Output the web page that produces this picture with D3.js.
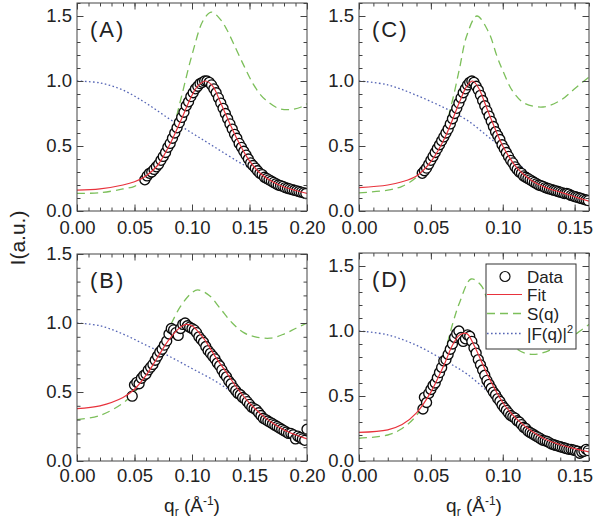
<!DOCTYPE html>
<html><head><meta charset="utf-8">
<script src="https://cdn.jsdelivr.net/npm/d3@7"></script>
<style>
body{margin:0;background:#fff}
text{font-family:"Liberation Sans",Arial,sans-serif;fill:#222}
</style>
</head><body>
<svg id="c" width="600" height="527"></svg>
<script>
// ---------- DATA ----------
const panelLabels = ["(A)", "(B)", "(C)", "(D)"];
const legendLabels = ["Data", "Fit", "S(q)", "|F(q)|"];
const xTicksAB = [0, 0.05, 0.10, 0.15, 0.20];
const xTicksCD = [0, 0.05, 0.10, 0.15];
const yTicks = [0, 0.5, 1.0, 1.5];

// Panel A
const dataA = [[0.059,0.24],[0.061,0.27],[0.063,0.29],[0.065,0.30],[0.067,0.32],[0.069,0.34],[0.071,0.36],[0.073,0.39],[0.075,0.42],[0.077,0.45],[0.079,0.49],[0.081,0.52],[0.083,0.56],[0.085,0.60],[0.087,0.64],[0.089,0.68],[0.091,0.72],[0.093,0.76],[0.095,0.81],[0.097,0.84],[0.099,0.88],[0.101,0.91],[0.103,0.94],[0.105,0.96],[0.107,0.98],[0.109,0.99],[0.111,1.0],[0.113,1.0],[0.115,0.99],[0.117,0.97],[0.119,0.94],[0.121,0.91],[0.123,0.87],[0.125,0.83],[0.127,0.79],[0.129,0.75],[0.131,0.71],[0.133,0.67],[0.135,0.63],[0.137,0.59],[0.139,0.56],[0.141,0.52],[0.143,0.49],[0.145,0.46],[0.147,0.43],[0.149,0.40],[0.151,0.37],[0.153,0.35],[0.155,0.33],[0.157,0.31],[0.159,0.29],[0.161,0.28],[0.163,0.26],[0.165,0.25],[0.167,0.24],[0.169,0.23],[0.171,0.22],[0.173,0.21],[0.175,0.20],[0.177,0.195],[0.179,0.19],[0.181,0.18],[0.183,0.175],[0.185,0.17],[0.187,0.165],[0.189,0.16],[0.191,0.155],[0.193,0.15],[0.195,0.145],[0.197,0.14],[0.199,0.135]];
const fitA = [[0,0.16],[0.02,0.17],[0.04,0.2],[0.05,0.225],[0.06,0.27],[0.07,0.35],[0.08,0.5],[0.09,0.69],[0.1,0.89],[0.105,0.96],[0.112,1.0],[0.118,0.96],[0.125,0.83],[0.13,0.73],[0.14,0.54],[0.15,0.385],[0.16,0.285],[0.17,0.225],[0.18,0.185],[0.19,0.158],[0.2,0.135]];
const sqA = [[0,0.136],[0.02,0.14],[0.04,0.17],[0.05,0.19],[0.06,0.25],[0.07,0.35],[0.08,0.52],[0.09,0.85],[0.1,1.2],[0.11,1.47],[0.117,1.53],[0.125,1.47],[0.13,1.4],[0.136,1.29],[0.145,1.12],[0.153,0.98],[0.16,0.89],[0.166,0.84],[0.175,0.79],[0.185,0.78],[0.195,0.8],[0.2,0.825]];
const ffA = [[0,1.0],[0.02,0.985],[0.04,0.93],[0.06,0.83],[0.08,0.71],[0.1,0.6],[0.12,0.49],[0.14,0.38],[0.15,0.33],[0.16,0.27],[0.18,0.17],[0.2,0.11]];

// Panel B
const dataB = [[0.048,0.47],[0.05,0.55],[0.052,0.57],[0.054,0.56],[0.056,0.60],[0.058,0.62],[0.06,0.63],[0.062,0.66],[0.064,0.68],[0.066,0.70],[0.068,0.73],[0.07,0.76],[0.072,0.79],[0.074,0.81],[0.076,0.84],[0.078,0.87],[0.08,0.92],[0.082,0.96],[0.084,0.95],[0.086,0.93],[0.088,0.91],[0.09,0.96],[0.092,0.99],[0.094,1.0],[0.096,0.98],[0.098,0.97],[0.1,0.96],[0.102,0.95],[0.104,0.93],[0.106,0.90],[0.108,0.88],[0.11,0.86],[0.112,0.83],[0.114,0.80],[0.116,0.78],[0.118,0.76],[0.12,0.74],[0.122,0.71],[0.124,0.69],[0.126,0.66],[0.128,0.63],[0.13,0.61],[0.132,0.58],[0.134,0.56],[0.136,0.53],[0.138,0.51],[0.14,0.49],[0.142,0.48],[0.144,0.46],[0.146,0.45],[0.148,0.43],[0.15,0.41],[0.152,0.39],[0.154,0.38],[0.156,0.37],[0.158,0.35],[0.16,0.33],[0.162,0.31],[0.164,0.30],[0.166,0.29],[0.168,0.28],[0.17,0.27],[0.172,0.26],[0.174,0.25],[0.176,0.24],[0.178,0.23],[0.18,0.22],[0.182,0.21],[0.184,0.20],[0.186,0.20],[0.188,0.19],[0.19,0.16],[0.192,0.18],[0.194,0.17],[0.196,0.16],[0.198,0.15],[0.2,0.23]];
const fitB = [[0,0.38],[0.02,0.40],[0.04,0.46],[0.05,0.52],[0.06,0.62],[0.07,0.75],[0.08,0.88],[0.09,0.97],[0.095,0.99],[0.1,0.98],[0.11,0.89],[0.12,0.76],[0.13,0.64],[0.14,0.52],[0.15,0.42],[0.16,0.34],[0.17,0.275],[0.18,0.225],[0.19,0.19],[0.2,0.16]];
const sqB = [[0,0.30],[0.02,0.33],[0.04,0.42],[0.05,0.50],[0.06,0.62],[0.07,0.78],[0.08,0.96],[0.09,1.12],[0.1,1.22],[0.105,1.24],[0.115,1.2],[0.125,1.1],[0.135,1.0],[0.145,0.93],[0.155,0.9],[0.168,0.89],[0.18,0.92],[0.19,0.96],[0.2,1.0]];
const ffB = [[0,1.0],[0.02,0.98],[0.04,0.92],[0.06,0.84],[0.08,0.76],[0.1,0.67],[0.12,0.58],[0.136,0.49],[0.15,0.39],[0.16,0.32],[0.18,0.21],[0.2,0.14]];

// Panel C
const dataC = [[0.044,0.29],[0.0455,0.31],[0.047,0.33],[0.0485,0.36],[0.05,0.39],[0.0515,0.42],[0.053,0.45],[0.0545,0.48],[0.056,0.51],[0.0575,0.54],[0.059,0.57],[0.0605,0.60],[0.062,0.63],[0.0635,0.67],[0.065,0.71],[0.0665,0.75],[0.068,0.79],[0.0695,0.83],[0.071,0.87],[0.0725,0.91],[0.074,0.94],[0.0755,0.97],[0.077,0.99],[0.0785,1.0],[0.08,0.99],[0.0815,0.96],[0.083,0.93],[0.0845,0.89],[0.086,0.85],[0.0875,0.81],[0.089,0.77],[0.0905,0.73],[0.092,0.69],[0.0935,0.65],[0.095,0.61],[0.0965,0.58],[0.098,0.55],[0.0995,0.51],[0.101,0.48],[0.1025,0.45],[0.104,0.42],[0.1055,0.39],[0.107,0.37],[0.1085,0.34],[0.11,0.32],[0.1115,0.30],[0.113,0.29],[0.1145,0.27],[0.116,0.26],[0.1175,0.25],[0.119,0.24],[0.1205,0.23],[0.122,0.22],[0.1235,0.21],[0.125,0.20],[0.1265,0.195],[0.128,0.19],[0.1295,0.18],[0.131,0.175],[0.1325,0.17],[0.134,0.165],[0.1355,0.16],[0.137,0.155],[0.1385,0.15],[0.14,0.145],[0.1415,0.14],[0.143,0.135],[0.1445,0.135],[0.146,0.13],[0.1475,0.12],[0.149,0.115],[0.1505,0.11],[0.152,0.105],[0.1535,0.10],[0.155,0.095],[0.1565,0.09],[0.158,0.085],[0.1595,0.08]];
const fitC = [[0,0.18],[0.02,0.2],[0.03,0.225],[0.04,0.27],[0.05,0.38],[0.06,0.57],[0.07,0.84],[0.075,0.96],[0.079,1.0],[0.083,0.95],[0.09,0.76],[0.1,0.5],[0.11,0.33],[0.12,0.235],[0.13,0.18],[0.14,0.145],[0.15,0.11],[0.16,0.075]];
const sqC = [[0,0.14],[0.02,0.16],[0.03,0.19],[0.04,0.26],[0.05,0.4],[0.06,0.65],[0.065,0.85],[0.07,1.1],[0.075,1.35],[0.082,1.5],[0.09,1.38],[0.096,1.19],[0.1,1.08],[0.107,0.92],[0.115,0.83],[0.128,0.8],[0.14,0.85],[0.15,0.94],[0.16,1.03]];
const ffC = [[0,1.0],[0.02,0.97],[0.04,0.89],[0.06,0.79],[0.075,0.7],[0.09,0.57],[0.1,0.48],[0.107,0.41],[0.115,0.32],[0.125,0.23],[0.14,0.14],[0.16,0.07]];

// Panel D
const dataD = [[0.0445,0.40],[0.0455,0.49],[0.047,0.45],[0.0485,0.52],[0.05,0.55],[0.0515,0.58],[0.053,0.60],[0.0545,0.64],[0.056,0.68],[0.0575,0.72],[0.059,0.77],[0.0605,0.78],[0.062,0.82],[0.0635,0.86],[0.065,0.90],[0.0665,0.95],[0.068,0.98],[0.0695,1.0],[0.071,0.95],[0.0725,0.92],[0.074,0.94],[0.0755,0.97],[0.077,0.96],[0.0785,0.92],[0.08,0.87],[0.0815,0.83],[0.083,0.78],[0.0845,0.74],[0.086,0.70],[0.0875,0.66],[0.089,0.62],[0.0905,0.59],[0.092,0.56],[0.0935,0.53],[0.095,0.51],[0.0965,0.48],[0.098,0.46],[0.0995,0.43],[0.101,0.41],[0.1025,0.39],[0.104,0.37],[0.1055,0.35],[0.107,0.34],[0.1085,0.33],[0.11,0.31],[0.1115,0.30],[0.113,0.28],[0.1145,0.26],[0.116,0.25],[0.1175,0.23],[0.119,0.22],[0.1205,0.21],[0.122,0.20],[0.1235,0.19],[0.125,0.18],[0.1265,0.17],[0.128,0.16],[0.1295,0.155],[0.131,0.15],[0.1325,0.14],[0.134,0.13],[0.1355,0.125],[0.137,0.12],[0.1385,0.115],[0.14,0.11],[0.1415,0.105],[0.143,0.10],[0.1445,0.095],[0.146,0.09],[0.1475,0.09],[0.149,0.085],[0.1505,0.08],[0.152,0.075],[0.1535,0.06],[0.155,0.07],[0.1565,0.075],[0.158,0.09],[0.1595,0.08]];
const fitD = [[0,0.22],[0.02,0.24],[0.03,0.28],[0.04,0.37],[0.05,0.53],[0.055,0.64],[0.06,0.76],[0.065,0.89],[0.07,0.97],[0.075,0.98],[0.08,0.89],[0.085,0.77],[0.09,0.65],[0.1,0.45],[0.11,0.32],[0.12,0.23],[0.13,0.165],[0.14,0.125],[0.15,0.095],[0.16,0.07]];
const sqD = [[0,0.175],[0.02,0.2],[0.03,0.25],[0.04,0.35],[0.05,0.55],[0.06,0.85],[0.065,1.05],[0.07,1.22],[0.078,1.4],[0.085,1.35],[0.09,1.22],[0.1,1.0],[0.11,0.86],[0.12,0.82],[0.13,0.84],[0.14,0.9],[0.15,0.97],[0.16,1.05]];
const ffD = [[0,1.0],[0.02,0.97],[0.04,0.89],[0.06,0.77],[0.075,0.67],[0.09,0.53],[0.1,0.43],[0.11,0.32],[0.12,0.23],[0.14,0.12],[0.16,0.06]];

// ---------- DRAW ----------
const RED = "#e8323c", GREEN = "#7cbf5a", BLUE = "#5565b5", FRAME = "#444";
const FONT = '"Liberation Sans", Arial, sans-serif';
const svg = d3.select("#c");

const panels = [
  {label: panelLabels[0], data: dataA, fit: fitA, sq: sqA, ff: ffA, xMax: 0.2, yMax: 1.6, xt: xTicksAB, L: 77, R: 307, T: 3, B: 211, pad: 10},
  {label: panelLabels[1], data: dataB, fit: fitB, sq: sqB, ff: ffB, xMax: 0.2, yMax: 1.5, xt: xTicksAB, L: 77, R: 307, T: 254, B: 461, pad: 8},
  {label: panelLabels[2], data: dataC, fit: fitC, sq: sqC, ff: ffC, xMax: 0.16, yMax: 1.6, xt: xTicksCD, L: 359, R: 589, T: 3, B: 211, pad: 10},
  {label: panelLabels[3], data: dataD, fit: fitD, sq: sqD, ff: ffD, xMax: 0.16, yMax: 1.6, xt: xTicksCD, L: 359, R: 589, T: 253, B: 461, pad: 8, legend: true}
];

panels.forEach((p, i) => {
  const x = d3.scaleLinear().domain([0, p.xMax]).range([p.L, p.R]);
  const y = d3.scaleLinear().domain([0, p.yMax]).range([p.B, p.T]);
  const g = svg.append("g");
  g.append("clipPath").attr("id", "clip" + i).append("rect")
    .attr("x", p.L).attr("y", p.T).attr("width", p.R - p.L).attr("height", p.B - p.T);
  const plot = g.append("g").attr("clip-path", `url(#clip${i})`);
  const line = d3.line().x(d => x(d[0])).y(d => y(d[1])).curve(d3.curveCatmullRom.alpha(0.5));

  plot.append("path").datum(p.ff).attr("d", line).attr("fill", "none")
    .attr("stroke", BLUE).attr("stroke-width", 1.3).attr("stroke-dasharray", "1.6,2.4");
  plot.append("path").datum(p.sq).attr("d", line).attr("fill", "none")
    .attr("stroke", GREEN).attr("stroke-width", 1.3).attr("stroke-dasharray", "8,5");
  plot.selectAll("circle").data(p.data).join("circle")
    .attr("cx", d => x(d[0])).attr("cy", d => y(d[1])).attr("r", 5)
    .attr("fill", "#fff").attr("stroke", "#0a0a0a").attr("stroke-width", 1.35);
  plot.append("path").datum(p.fit).attr("d", line).attr("fill", "none")
    .attr("stroke", RED).attr("stroke-width", 1.2);

  // axes with inward ticks
  const minorX = d3.range(0, p.xMax + 1e-9, 0.01);
  const minorY = d3.range(0, p.yMax + 1e-9, 0.1);
  const styleAxis = sel => {
    sel.select(".domain").remove();
    sel.selectAll("line").attr("stroke", FRAME);
    sel.selectAll("text").attr("font-family", FONT).attr("font-size", 18.5).attr("fill", "#222");
  };
  g.append("g").attr("transform", `translate(0,${p.B})`)
    .call(d3.axisBottom(x).tickValues(minorX).tickSize(-3.5).tickFormat("")).call(styleAxis);
  g.append("g").attr("transform", `translate(0,${p.B})`)
    .call(d3.axisBottom(x).tickValues(p.xt).tickSize(-6.5).tickPadding(p.pad).tickFormat(d3.format(".2f"))).call(styleAxis);
  g.append("g").attr("transform", `translate(0,${p.T})`)
    .call(d3.axisTop(x).tickValues(minorX).tickSize(-3.5).tickFormat("")).call(styleAxis);
  g.append("g").attr("transform", `translate(0,${p.T})`)
    .call(d3.axisTop(x).tickValues(p.xt).tickSize(-6.5).tickFormat("")).call(styleAxis);
  g.append("g").attr("transform", `translate(${p.L},0)`)
    .call(d3.axisLeft(y).tickValues(minorY).tickSize(-3.5).tickFormat("")).call(styleAxis);
  g.append("g").attr("transform", `translate(${p.L},0)`)
    .call(d3.axisLeft(y).tickValues(yTicks).tickSize(-6.5).tickPadding(5).tickFormat(d3.format(".1f"))).call(styleAxis);
  g.append("g").attr("transform", `translate(${p.R},0)`)
    .call(d3.axisRight(y).tickValues(minorY).tickSize(-3.5).tickFormat("")).call(styleAxis);
  g.append("g").attr("transform", `translate(${p.R},0)`)
    .call(d3.axisRight(y).tickValues(yTicks).tickSize(-6.5).tickFormat("")).call(styleAxis);

  g.append("rect").attr("x", p.L).attr("y", p.T).attr("width", p.R - p.L).attr("height", p.B - p.T)
    .attr("fill", "none").attr("stroke", FRAME).attr("stroke-width", 1);

  g.append("text").attr("x", p.L + 13).attr("y", p.T + 34)
    .attr("font-size", 22).attr("letter-spacing", 2).text(p.label);

  if (p.legend) {
    const lg = g.append("g");
    lg.append("rect").attr("x", 486).attr("y", 264).attr("width", 90).attr("height", 85)
      .attr("fill", "#fff").attr("stroke", "#333").attr("stroke-width", 1);
    const rows = [276.5, 294.5, 313.5, 333.5];
    lg.append("circle").attr("cx", 505).attr("cy", rows[0]).attr("r", 5)
      .attr("fill", "#fff").attr("stroke", "#111").attr("stroke-width", 1.2);
    lg.append("line").attr("x1", 487).attr("x2", 522).attr("y1", rows[1]).attr("y2", rows[1])
      .attr("stroke", RED).attr("stroke-width", 1.2);
    lg.append("line").attr("x1", 487).attr("x2", 522).attr("y1", rows[2]).attr("y2", rows[2])
      .attr("stroke", GREEN).attr("stroke-width", 1.3).attr("stroke-dasharray", "8,5");
    lg.append("line").attr("x1", 487).attr("x2", 522).attr("y1", rows[3]).attr("y2", rows[3])
      .attr("stroke", BLUE).attr("stroke-width", 1.3).attr("stroke-dasharray", "1.6,2.4");
    legendLabels.forEach((t, k) => {
      const tx = lg.append("text").attr("x", 527).attr("y", rows[k] + 6).attr("font-size", 17).text(t);
      if (k === 3) tx.append("tspan").attr("font-size", 11).attr("dy", -7).text("2");
    });
  }
});

// axis titles
svg.append("text").attr("transform", "translate(25,238) rotate(-90)")
  .attr("text-anchor", "middle").attr("font-size", 21).text("I(a.u.)");

[[192, 512], [474, 512]].forEach(([cx, cy]) => {
  const t = svg.append("text").attr("x", cx).attr("y", cy).attr("text-anchor", "middle").attr("font-size", 19);
  t.append("tspan").text("q");
  t.append("tspan").attr("font-size", 12).attr("dy", 4).text("r");
  t.append("tspan").attr("dy", -4).text(" (Å");
  t.append("tspan").attr("font-size", 12).attr("dy", -7).text("-1");
  t.append("tspan").attr("dy", 7).text(")");
});
</script>
</body></html>
